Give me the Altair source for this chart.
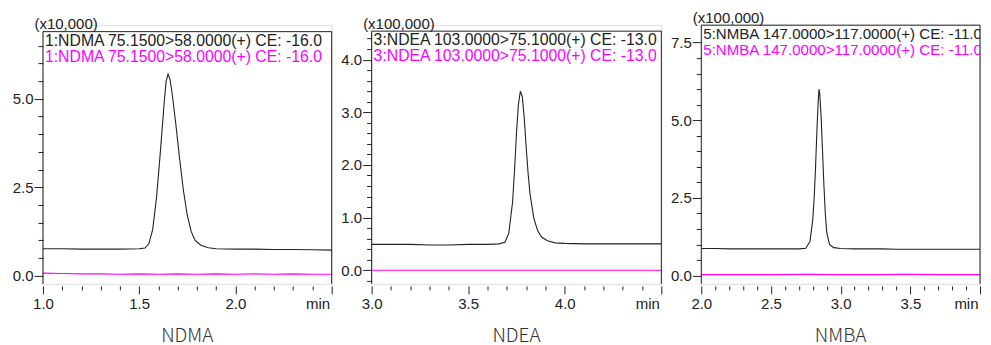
import json
import altair as alt
import pandas as pd

# ---------------- data ----------------
# NDMA (intensity x10,000)
ndma_t = [1.00, 1.10, 1.20, 1.30, 1.40, 1.50, 1.53, 1.55, 1.57, 1.59, 1.61, 1.63, 1.64,
          1.65, 1.66, 1.67, 1.69, 1.71, 1.73, 1.75, 1.77, 1.79, 1.82, 1.86, 1.90, 2.00,
          2.10, 2.20, 2.30, 2.40, 2.50]
ndma_black = [0.76, 0.76, 0.75, 0.75, 0.75, 0.76, 0.78, 0.90, 1.30, 2.20, 3.50, 4.90, 5.50,
              5.70, 5.55, 5.20, 4.30, 3.30, 2.40, 1.70, 1.25, 1.00, 0.86, 0.79, 0.76, 0.75,
              0.75, 0.74, 0.74, 0.73, 0.72]
ndma_mag_t = [1.00, 1.10, 1.20, 1.30, 1.40, 1.50, 1.60, 1.70, 1.80, 1.90, 2.00, 2.10, 2.20,
              2.30, 2.40, 2.50]
ndma_mag = [0.07, 0.06, 0.05, 0.05, 0.04, 0.05, 0.04, 0.05, 0.04, 0.05, 0.04, 0.05, 0.04,
            0.05, 0.04, 0.04]

# NDEA (intensity x100,000)
ndea_t = [3.00, 3.10, 3.20, 3.30, 3.40, 3.50, 3.60, 3.66, 3.69, 3.71, 3.73, 3.74, 3.75,
          3.76, 3.77, 3.78, 3.79, 3.80, 3.81, 3.82, 3.84, 3.86, 3.88, 3.91, 3.95, 4.00,
          4.10, 4.20, 4.30, 4.40, 4.50]
ndea_black = [0.49, 0.49, 0.49, 0.48, 0.48, 0.49, 0.49, 0.50, 0.53, 0.70, 1.30, 1.90, 2.60,
              3.15, 3.40, 3.30, 2.90, 2.35, 1.85, 1.45, 0.98, 0.75, 0.63, 0.56, 0.52, 0.51,
              0.50, 0.50, 0.50, 0.50, 0.50]
ndea_mag_t = [3.00, 3.50, 4.00, 4.50]
ndea_mag = [0.0, 0.0, 0.0, 0.0]

# NMBA (intensity x100,000)
nmba_t = [2.00, 2.10, 2.20, 2.30, 2.40, 2.50, 2.60, 2.70, 2.75, 2.78, 2.80, 2.81, 2.82,
          2.83, 2.84, 2.845, 2.85, 2.86, 2.87, 2.88, 2.89, 2.90, 2.92, 2.95, 3.00, 3.10,
          3.20, 3.30, 3.40, 3.50, 3.60, 3.70, 3.80, 3.90, 4.00]
nmba_black = [0.87, 0.87, 0.86, 0.86, 0.86, 0.86, 0.86, 0.86, 0.88, 1.10, 1.80, 2.50, 3.50,
              4.70, 5.70, 6.00, 5.85, 5.10, 4.00, 2.90, 2.00, 1.40, 1.00, 0.90, 0.87, 0.86,
              0.86, 0.86, 0.85, 0.85, 0.85, 0.85, 0.85, 0.85, 0.85]
nmba_mag_t = [2.00, 2.25, 2.50, 2.75, 3.00, 3.25, 3.50, 3.75, 4.00]
nmba_mag = [0.03, 0.03, 0.03, 0.04, 0.03, 0.03, 0.04, 0.03, 0.03]

# labels / ticks
names = ["NDMA", "NDEA", "NMBA"]
scales = ["(x10,000)", "(x100,000)", "(x100,000)"]
channels = ["1:NDMA 75.1500>58.0000(+) CE: -16.0",
            "3:NDEA 103.0000>75.1000(+) CE: -13.0",
            "5:NMBA 147.0000>117.0000(+) CE: -11.0"]

x_ticks_1 = [1.0, 1.1, 1.2, 1.3, 1.4, 1.5, 1.6, 1.7, 1.8, 1.9, 2.0, 2.1, 2.2, 2.3, 2.4, 2.5]
x_major_1 = [1.0, 1.5, 2.0, 2.5]
x_lab_1 = [1.0, 1.5, 2.0]
x_ticks_2 = [3.0, 3.1, 3.2, 3.3, 3.4, 3.5, 3.6, 3.7, 3.8, 3.9, 4.0, 4.1, 4.2, 4.3, 4.4, 4.5]
x_major_2 = [3.0, 3.5, 4.0, 4.5]
x_lab_2 = [3.0, 3.5, 4.0]
x_ticks_3 = [2.0, 2.1, 2.2, 2.3, 2.4, 2.5, 2.6, 2.7, 2.8, 2.9, 3.0, 3.1, 3.2, 3.3, 3.4, 3.5,
             3.6, 3.7, 3.8, 3.9, 4.0]
x_major_3 = [2.0, 2.5, 3.0, 3.5, 4.0]
x_lab_3 = [2.0, 2.5, 3.0, 3.5]

y_ticks_1 = [0.0, 0.5, 1.0, 1.5, 2.0, 2.5, 3.0, 3.5, 4.0, 4.5, 5.0, 5.5, 6.0, 6.5]
y_major_1 = [0.0, 2.5, 5.0]
y_ticks_2 = [-0.2, 0.0, 0.2, 0.4, 0.6, 0.8, 1.0, 1.2, 1.4, 1.6, 1.8, 2.0, 2.2, 2.4, 2.6,
             2.8, 3.0, 3.2, 3.4, 3.6, 3.8, 4.0, 4.2, 4.4]
y_major_2 = [0.0, 1.0, 2.0, 3.0, 4.0]
y_ticks_3 = [0.0, 0.5, 1.0, 1.5, 2.0, 2.5, 3.0, 3.5, 4.0, 4.5, 5.0, 5.5, 6.0, 6.5, 7.0, 7.5]
y_major_3 = [0.0, 2.5, 5.0, 7.5]

# ---------------- styling ----------------
FONT = "Liberation Sans"
INK = "#222222"
MAG = "#ff00ff"
H = 259


def in_list(vals):
    return f"indexof({json.dumps(vals)}, datum.value) >= 0"


def panel(t, black, mt, mag, xdom, ydom, xt, xmaj, xlab, yt, ymaj,
          width, top, name, scale_txt, chan, chan_size):
    df = pd.concat([
        pd.DataFrame({"t": t, "v": black, "trace": "a"}),
        pd.DataFrame({"t": mt, "v": mag, "trace": "b"}),
    ], ignore_index=True)

    xaxis = alt.Axis(
        values=xt,
        labelExpr=f"{in_list(xlab)} ? format(datum.value, '.1f') : ''",
        tickSize={"condition": {"test": in_list(xmaj), "value": 8}, "value": 4},
        domain=False, grid=False, offset=2, labelPadding=3,
        labelFont=FONT, labelFontSize=15, labelColor=INK, tickColor=INK,
        labelOverlap=False, labelFlush=False,
        title="min", titleX=width - 2, titleY=23, titleAlign="right",
        titleBaseline="alphabetic", titleFont=FONT, titleFontSize=15,
        titleFontWeight="normal", titleColor=INK,
    )
    yaxis = alt.Axis(
        values=yt,
        labelExpr=f"{in_list(ymaj)} ? format(datum.value, '.1f') : ''",
        tickSize={"condition": {"test": in_list(ymaj), "value": 9}, "value": 5},
        domain=False, grid=False, labelPadding=1,
        labelFont=FONT, labelFontSize=15, labelColor=INK, tickColor=INK,
        labelOverlap=False, labelFlush=False,
        title=scale_txt, titleAngle=0, titleAlign="left", titleBaseline="alphabetic",
        titleX=-9, titleY=top - 3, titleFont=FONT, titleFontSize=15,
        titleFontWeight="normal", titleColor=INK,
    )

    lines = alt.Chart(df).mark_line(strokeWidth=1.1, clip=True).encode(
        x=alt.X("t:Q", scale=alt.Scale(domain=xdom, nice=False, zero=False), axis=xaxis),
        y=alt.Y("v:Q", scale=alt.Scale(domain=ydom, nice=False, zero=False), axis=yaxis),
        color=alt.Color("trace:N", scale=alt.Scale(domain=["a", "b"], range=[INK, MAG]),
                        legend=None),
        detail="trace:N",
    )

    one = pd.DataFrame({"k": [0]})
    frame_top = alt.Chart(one).mark_rule(color=INK, strokeWidth=1).encode(
        x=alt.value(0), x2=alt.value(width), y=alt.value(top))
    frame_left = alt.Chart(one).mark_rule(color=INK, strokeWidth=1).encode(
        x=alt.value(0), y=alt.value(top), y2=alt.value(H))
    frame_right = alt.Chart(one).mark_rule(color=INK, strokeWidth=1).encode(
        x=alt.value(width), y=alt.value(top), y2=alt.value(H))

    t1 = alt.Chart(pd.DataFrame({"s": [chan]})).mark_text(
        align="left", baseline="alphabetic", font=FONT, fontSize=chan_size, color=INK,
        clip=True
    ).encode(x=alt.value(2), y=alt.value(top + 14), text="s:N")
    t2 = alt.Chart(pd.DataFrame({"s": [chan]})).mark_text(
        align="left", baseline="alphabetic", font=FONT, fontSize=chan_size, color=MAG,
        clip=True
    ).encode(x=alt.value(2), y=alt.value(top + 30), text="s:N")

    return alt.layer(lines, frame_top, frame_left, frame_right, t1, t2).properties(
        width=width, height=H,
        title=alt.TitleParams(name, orient="bottom", anchor="middle",
                              font="Noto Sans CJK JP", fontSize=19, fontWeight=300,
                              color="#333333", offset=15),
    )


p1 = panel(ndma_t, ndma_black, ndma_mag_t, ndma_mag, [1.0, 2.5], [-0.234, 7.082],
           x_ticks_1, x_major_1, x_lab_1, y_ticks_1, y_major_1, 289, 6.5,
           names[0], scales[0], channels[0], 15.8)
p2 = panel(ndea_t, ndea_black, ndea_mag_t, ndea_mag, [3.0, 4.5], [-0.26, 4.655],
           x_ticks_2, x_major_2, x_lab_2, y_ticks_2, y_major_2, 290, 6,
           names[1], scales[1], channels[1], 15.8)
p3 = panel(nmba_t, nmba_black, nmba_mag_t, nmba_mag, [2.0, 4.0], [-0.267, 8.061],
           x_ticks_3, x_major_3, x_lab_3, y_ticks_3, y_major_3, 279, 0,
           names[2], scales[2], channels[2], 15.1)

chart = alt.hconcat(p1, p2, p3, spacing=40, bounds="flush").properties(
    padding={"left": 3, "top": 1, "right": 2, "bottom": 0}
).configure_view(stroke=None).configure(background="white")

chart.save("out.html", embed_options={"renderer": "svg", "actions": False})
